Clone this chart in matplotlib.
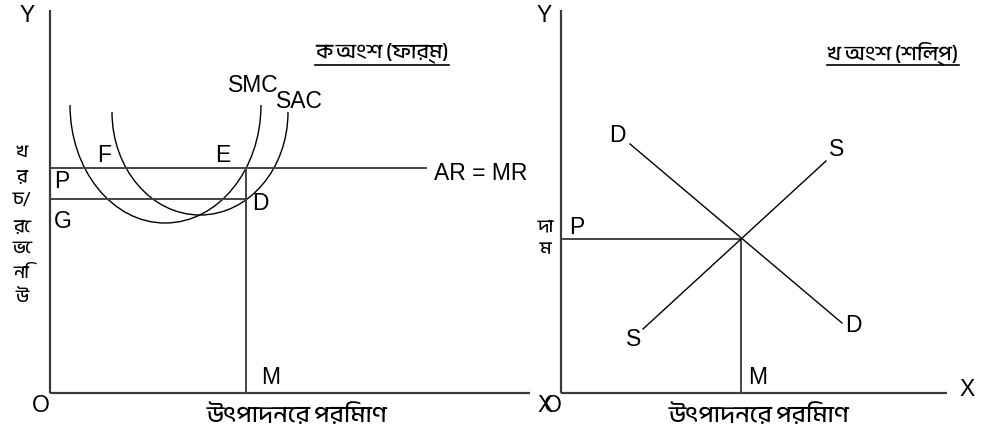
import matplotlib
matplotlib.use("Agg")
import matplotlib.pyplot as plt
from matplotlib import font_manager
from matplotlib.ft2font import FT2Font
from matplotlib.path import Path
from matplotlib.patches import PathPatch
from matplotlib.lines import Line2D
from matplotlib.transforms import IdentityTransform

# ---------------- data (arbitrary units) ----------------
# Left panel (firm)
price_P = 56.25          # AR = MR level
cost_G = 48.5            # SAC at equilibrium output
qty_M = 49.0             # equilibrium output of firm
ar_end = 94.25           # end of AR = MR line
left_xmax, left_ymax = 120.0, 95.75

# SMC curve: cubic Bezier control polygon
smc_x = [5.0, 5.0, 15.6, 28.75, 42.0, 52.75, 52.75]
smc_y = [72.0, 55.75, 42.5, 42.5, 42.5, 55.75, 72.0]
# SAC curve: cubic Bezier control polygon
sac_x = [15.5, 15.5, 25.35, 37.5, 49.65, 59.5, 59.5]
sac_y = [70.25, 56.0, 44.5, 44.5, 44.5, 56.0, 70.25]

# Right panel (industry)
demand_x = [17.25, 70.25]
demand_y = [62.25, 17.5]
supply_x = [20.5, 66.25]
supply_y = [16.0, 58.0]
eq_qty, eq_price = 45.0, 38.5
right_xmax, right_ymax = 96.5, 95.75

title_left = "ক অংশ (ফার্ম)"
title_right = "খ অংশ (শিল্প)"
xlabel_text = "উৎপাদনের পরিমাণ"
ylabel_left_chars = ["খ", "র", "চ/", "রে", "ভে", "নি", "উ"]
ylabel_right_chars = ["দা", "ম"]

# ---------------- fonts ----------------
beng = None
keys = ('Bengali', 'Bangla', 'Lohit', 'Kalpurush', 'Siyam', 'Mukti', 'Vrinda', 'Shonar', 'Akaash', 'Likhan')
for f in font_manager.fontManager.ttflist:
    if any(k.lower() in f.name.lower() for k in keys):
        beng = f.name
        break
if beng is None:
    for f in font_manager.fontManager.ttflist:
        try:
            if 0x0995 in FT2Font(f.fname).get_charmap():
                beng = f.name
                break
        except Exception:
            pass
latin = ['Liberation Sans', 'DejaVu Sans']
bfam = ([beng] if beng else []) + latin
plt.rcParams['font.family'] = latin

W, H = 981, 425
fig = plt.figure(figsize=(W / 100, H / 100), dpi=100)

def make_ax(x0, x1, ytop, ybot, xmax, ymax):
    ax = fig.add_axes([x0 / W, (H - ybot) / H, (x1 - x0) / W, (ybot - ytop) / H])
    ax.set_xlim(0, xmax)
    ax.set_ylim(0, ymax)
    ax.axis('off')
    return ax

axL = make_ax(50, 530, 10, 393, left_xmax, left_ymax)
axR = make_ax(561, 947, 10, 393, right_xmax, right_ymax)

axis_kw = dict(color='#3a3a3a', lw=1.6, solid_capstyle='butt', clip_on=False)
thin_kw = dict(color='black', lw=1.0, clip_on=False)
grey_kw = dict(color='#444444', lw=1.4, solid_capstyle='butt', clip_on=False)
lab = dict(fontsize=16.5, ha='center', va='center', color='black', clip_on=False)

# ---- left panel ----
axL.plot([0, 0], [0, left_ymax], **axis_kw)
axL.plot([0, left_xmax], [0, 0], **axis_kw)
axL.plot([0, ar_end], [price_P, price_P], **grey_kw)
axL.plot([0, qty_M], [cost_G, cost_G], **grey_kw)
axL.plot([qty_M, qty_M], [0, price_P], **grey_kw)

codes = [Path.MOVETO] + [Path.CURVE4] * 6
for xs, ys in ((smc_x, smc_y), (sac_x, sac_y)):
    axL.add_patch(PathPatch(Path(list(zip(xs, ys)), codes), fill=False,
                            edgecolor='black', lw=1.0, clip_on=False))

axL.text(-5.75, 94.25, "Y", **lab)
axL.text(-2.25, -3.25, "O", **lab)
axL.text(123.75, -3.0, "X", **lab)
axL.text(13.5, 59.5, "F", **lab)
axL.text(43.25, 59.5, "E", **lab)
axL.text(3.0, 52.75, "P", **lab)
axL.text(3.25, 42.75, "G", **lab)
axL.text(52.5, 47.25, "D", **lab)
axL.text(55.25, 3.75, "M", **lab)
axL.text(50.75, 77.0, "SMC", **lab)
axL.text(62.25, 73.0, "SAC", **lab)
axL.text(107.75, 55.0, "AR = MR", **lab)

blab = dict(ha='center', va='center', color='black', clip_on=False, family=bfam)
tL = axL.text(83.0, 85.0, title_left, fontsize=15, **blab)
axL.text(61.75, -5.5, xlabel_text, fontsize=17, **blab)
for ch, yy in zip(ylabel_left_chars, [60.25, 54.0, 48.25, 41.5, 36.25, 30.0, 24.0]):
    axL.text(-7.0, yy, ch, fontsize=13, **blab)

# ---- right panel ----
axR.plot([0, 0], [0, right_ymax], **axis_kw)
axR.plot([0, right_xmax], [0, 0], **axis_kw)
axR.plot([0, eq_qty], [eq_price, eq_price], **grey_kw)
axR.plot([eq_qty, eq_qty], [0, eq_price], **grey_kw)
axR.plot(demand_x, demand_y, **thin_kw)
axR.plot(supply_x, supply_y, **thin_kw)

axR.text(-4.25, 94.25, "Y", **lab)
axR.text(-2.0, -3.25, "O", **lab)
axR.text(101.5, 0.75, "X", **lab)
axR.text(14.0, 64.25, "D", **lab)
axR.text(69.0, 60.75, "S", **lab)
axR.text(18.25, 13.5, "S", **lab)
axR.text(73.0, 16.75, "D", **lab)
axR.text(4.0, 41.25, "P", **lab)
axR.text(49.25, 3.75, "M", **lab)

tR = axR.text(83.0, 85.0, title_right, fontsize=15, **blab)
axR.text(49.5, -5.5, xlabel_text, fontsize=17, **blab)
for ch, yy in zip(ylabel_right_chars, [41.25, 35.75]):
    axR.text(-3.75, yy, ch, fontsize=13, **blab)

# underline titles
fig.canvas.draw()
r = fig.canvas.get_renderer()
for t in (tL, tR):
    bb = t.get_window_extent(r)
    fig.add_artist(Line2D([bb.x0, bb.x1], [H - 65, H - 65], color='black', lw=1.2,
                          transform=IdentityTransform()))

fig.savefig("out.png", dpi=100)
